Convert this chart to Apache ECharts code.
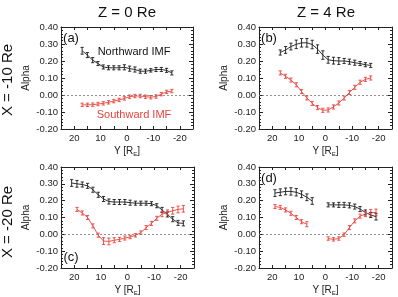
<!DOCTYPE html>
<html>
<head>
<meta charset="utf-8">
<script src="https://cdn.jsdelivr.net/npm/echarts@6/dist/echarts.min.js"></script>
<style>
html, body { margin: 0; padding: 0; background: #fff; }
#chart { width: 398px; height: 297px; }
</style>
</head>
<body>
<div id="chart"></div>
<script>
// Y positions (R_E) of the bins, per panel and curve
var yA = [17, 15, 13, 11, 9, 7, 5, 3, 1, -1, -3, -5, -7, -9, -11, -13, -15, -17];
var yCN = [21, 19, 17, 15, 13, 11, 9, 7, 5, 3, 1, -1, -3, -5, -7, -9, -11, -13, -15, -17, -19, -21];
var yCS = [19, 17, 15, 13, 11, 9, 7, 5, 3, 1, -1, -3, -5, -7, -9, -11, -13, -15, -17, -19, -21];
var yDNL = [19, 17, 15, 13, 11, 9, 7, 5];
var yDSL = [19, 17, 15, 13, 11, 9, 7];
var yDR = [-1, -3, -5, -7, -9, -11, -13, -15, -17, -19];

// (a) X = -10, Z = 0
var aNorth = [0.26, 0.235, 0.205, 0.185, 0.165, 0.16, 0.16, 0.16, 0.163, 0.155, 0.15, 0.14, 0.14, 0.145, 0.15, 0.15, 0.145, 0.13];
var aNorthErr = [0.02, 0.015, 0.015, 0.012, 0.012, 0.012, 0.012, 0.012, 0.015, 0.015, 0.015, 0.012, 0.012, 0.01, 0.012, 0.012, 0.012, 0.012];
var aSouth = [-0.058, -0.058, -0.057, -0.053, -0.049, -0.043, -0.036, -0.029, -0.02, -0.01, -0.006, -0.006, -0.01, -0.013, -0.009, 0.005, 0.018, 0.023];
var aSouthErr = [0.01, 0.01, 0.01, 0.01, 0.01, 0.01, 0.01, 0.01, 0.01, 0.01, 0.01, 0.01, 0.01, 0.01, 0.01, 0.01, 0.01, 0.01];

// (b) X = -10, Z = 4
var bNorth = [0.25, 0.265, 0.285, 0.298, 0.307, 0.307, 0.297, 0.27, 0.235, 0.207, 0.202, 0.2, 0.2, 0.196, 0.19, 0.185, 0.178, 0.174];
var bNorthErr = [0.015, 0.02, 0.02, 0.025, 0.025, 0.025, 0.025, 0.025, 0.025, 0.02, 0.02, 0.02, 0.015, 0.015, 0.015, 0.012, 0.012, 0.012];
var bSouth = [0.13, 0.11, 0.088, 0.06, 0.02, -0.017, -0.05, -0.074, -0.09, -0.088, -0.07, -0.047, -0.018, 0.015, 0.045, 0.075, 0.092, 0.1];
var bSouthErr = [0.012, 0.012, 0.012, 0.012, 0.012, 0.012, 0.012, 0.012, 0.012, 0.012, 0.012, 0.012, 0.012, 0.012, 0.012, 0.012, 0.012, 0.012];

// (c) X = -20, Z = 0
var cNorth = [0.305, 0.3, 0.296, 0.288, 0.265, 0.235, 0.21, 0.195, 0.192, 0.192, 0.192, 0.188, 0.185, 0.185, 0.185, 0.182, 0.17, 0.145, 0.118, 0.09, 0.068, 0.065];
var cNorthErr = [0.02, 0.02, 0.015, 0.015, 0.015, 0.015, 0.015, 0.015, 0.015, 0.015, 0.015, 0.015, 0.012, 0.012, 0.012, 0.012, 0.012, 0.015, 0.015, 0.015, 0.015, 0.015];
var cSouth = [0.148, 0.127, 0.1, 0.05, -0.005, -0.04, -0.042, -0.035, -0.03, -0.022, -0.016, -0.006, 0.01, 0.04, 0.065, 0.095, 0.12, 0.13, 0.14, 0.148, 0.152];
var cSouthErr = [0.012, 0.012, 0.012, 0.012, 0.012, 0.02, 0.02, 0.015, 0.012, 0.012, 0.01, 0.01, 0.01, 0.012, 0.012, 0.012, 0.015, 0.015, 0.02, 0.02, 0.02];

// (d) X = -20, Z = 4
var dNorthL = [0.245, 0.25, 0.255, 0.255, 0.25, 0.238, 0.22, 0.198];
var dNorthLErr = [0.02, 0.02, 0.02, 0.022, 0.022, 0.02, 0.02, 0.02];
var dNorthR = [0.175, 0.175, 0.175, 0.175, 0.172, 0.165, 0.15, 0.13, 0.115, 0.105];
var dNorthRErr = [0.012, 0.012, 0.015, 0.015, 0.015, 0.015, 0.015, 0.015, 0.015, 0.02];
var dSouthL = [0.165, 0.16, 0.145, 0.125, 0.1, 0.075, 0.06];
var dSouthLErr = [0.012, 0.012, 0.012, 0.012, 0.012, 0.012, 0.015];
var dSouthR = [-0.025, -0.03, -0.025, -0.002, 0.04, 0.08, 0.108, 0.12, 0.128, 0.13];
var dSouthRErr = [0.01, 0.01, 0.01, 0.01, 0.012, 0.012, 0.012, 0.015, 0.02, 0.02];

var BLACK = '#1a1a1a';
var RED = '#e8433b';
var FONT = 'Liberation Sans, Arial, sans-serif';

var chart = echarts.init(document.getElementById('chart'));

var grids = [
    {left: 61, top: 27, width: 132, height: 102},
    {left: 259, top: 27, width: 133, height: 102},
    {left: 61, top: 167, width: 133, height: 103},
    {left: 259, top: 167, width: 133, height: 103}
];

function zipPts(xs, vs, es) {
    var out = [];
    for (var i = 0; i < xs.length; i++) out.push([xs[i], vs[i], es[i]]);
    return out;
}

function renderErr(params, api) {
    var x = api.value(0), v = api.value(1), e = api.value(2);
    var hi = api.coord([x, v + e]);
    var lo = api.coord([x, v - e]);
    var w = 1.6;
    var st = {stroke: api.visual('color'), lineWidth: 0.9};
    return {
        type: 'group',
        children: [
            {type: 'line', shape: {x1: hi[0], y1: hi[1], x2: lo[0], y2: lo[1]}, style: st},
            {type: 'line', shape: {x1: hi[0] - w, y1: hi[1], x2: hi[0] + w, y2: hi[1]}, style: st},
            {type: 'line', shape: {x1: lo[0] - w, y1: lo[1], x2: lo[0] + w, y2: lo[1]}, style: st}
        ]
    };
}

var xAxes = [], yAxes = [], series = [];

grids.forEach(function (g, i) {
    xAxes.push({
        gridIndex: i, type: 'value', inverse: true, min: -25, max: 25, interval: 5,
        name: 'Y [R{e|E}]', nameLocation: 'middle', nameGap: 17,
        nameTextStyle: {fontSize: 10, color: '#222', fontFamily: FONT,
            rich: {e: {fontSize: 6, color: '#222', fontFamily: FONT, padding: [5, 0, 0, 0]}}},
        axisLine: {show: true, onZero: false, lineStyle: {color: '#222', width: 1}},
        axisTick: {show: true, inside: true, length: 3, lineStyle: {color: '#222'}},
        axisLabel: {fontSize: 9.5, color: '#222', fontFamily: FONT, margin: 4,
            formatter: function (v) { return v % 10 === 0 ? String(v) : ''; }},
        splitLine: {show: false}
    });
    xAxes.push({
        gridIndex: i, type: 'value', inverse: true, min: -25, max: 25, interval: 5, position: 'top',
        axisLine: {show: true, onZero: false, lineStyle: {color: '#222', width: 1}},
        axisTick: {show: true, inside: true, length: 3, lineStyle: {color: '#222'}},
        axisLabel: {show: false}, splitLine: {show: false}
    });
    yAxes.push({
        gridIndex: i, type: 'value', min: -0.2, max: 0.4, interval: 0.1,
        name: 'Alpha', nameLocation: 'middle', nameGap: 30,
        nameTextStyle: {fontSize: 10, color: '#222', fontFamily: FONT},
        axisLine: {show: true, onZero: false, lineStyle: {color: '#222', width: 1}},
        axisTick: {show: true, inside: true, length: 4, lineStyle: {color: '#222'}},
        minorTick: {show: true, splitNumber: 5, length: 2, lineStyle: {color: '#222'}},
        axisLabel: {fontSize: 9.5, color: '#222', fontFamily: FONT, margin: 3,
            formatter: function (v) { return Math.abs(v) < 1e-9 ? '0.00' : v.toFixed(2); }},
        splitLine: {show: false}
    });
    yAxes.push({
        gridIndex: i, type: 'value', min: -0.2, max: 0.4, interval: 0.1, position: 'right',
        axisLine: {show: true, onZero: false, lineStyle: {color: '#222', width: 1}},
        axisTick: {show: true, inside: true, length: 4, lineStyle: {color: '#222'}},
        minorTick: {show: true, splitNumber: 5, length: 2, lineStyle: {color: '#222'}},
        axisLabel: {show: false}, splitLine: {show: false}
    });
});

function addCurve(gi, xs, vs, es, color, zeroLine) {
    var pts = zipPts(xs, vs, es);
    var line = {
        type: 'line', xAxisIndex: gi * 2, yAxisIndex: gi * 2,
        data: pts.map(function (p) { return [p[0], p[1]]; }),
        showSymbol: false, symbol: 'none', smooth: false,
        lineStyle: {color: color, width: 0.9},
        itemStyle: {color: color},
        silent: true, animation: false, z: 3
    };
    if (zeroLine) {
        line.markLine = {
            symbol: 'none', silent: true, animation: false,
            label: {show: false},
            lineStyle: {type: [2, 2], color: '#777', width: 0.8},
            data: [{yAxis: 0}]
        };
    }
    series.push(line);
    series.push({
        type: 'custom', xAxisIndex: gi * 2, yAxisIndex: gi * 2,
        renderItem: renderErr, data: pts,
        encode: {x: 0, y: 1},
        itemStyle: {color: color},
        silent: true, animation: false, z: 4
    });
}

addCurve(0, yA, aNorth, aNorthErr, BLACK, true);
addCurve(0, yA, aSouth, aSouthErr, RED, false);
addCurve(1, yA, bNorth, bNorthErr, BLACK, true);
addCurve(1, yA, bSouth, bSouthErr, RED, false);
addCurve(2, yCN, cNorth, cNorthErr, BLACK, true);
addCurve(2, yCS, cSouth, cSouthErr, RED, false);
addCurve(3, yDNL, dNorthL, dNorthLErr, BLACK, true);
addCurve(3, yDR, dNorthR, dNorthRErr, BLACK, false);
addCurve(3, yDSL, dSouthL, dSouthLErr, RED, false);
addCurve(3, yDR, dSouthR, dSouthRErr, RED, false);

function txt(x, y, s, size, color, extra) {
    var o = {
        type: 'text', x: x, y: y, silent: true,
        style: {text: s, fontSize: size, fill: color || '#111', fontFamily: FONT,
            textAlign: 'center', textVerticalAlign: 'middle'}
    };
    if (extra) for (var k in extra) o[k] = extra[k];
    return o;
}

var option = {
    backgroundColor: '#fff',
    animation: false,
    grid: grids.map(function (g) {
        return {left: g.left, top: g.top, width: g.width, height: g.height, show: false};
    }),
    xAxis: xAxes,
    yAxis: yAxes,
    series: series,
    graphic: [
        txt(127, 13, 'Z = 0 Re', 15),
        txt(326, 13, 'Z = 4 Re', 15),
        txt(8, 80, 'X = -10 Re', 15, '#111', {rotation: Math.PI / 2}),
        txt(8, 222, 'X = -20 Re', 15, '#111', {rotation: Math.PI / 2}),
        txt(71, 38, '(a)', 13),
        txt(269, 38, '(b)', 13),
        txt(71, 257, '(c)', 13),
        txt(269, 178, '(d)', 13),
        txt(134, 52, 'Northward IMF', 11, '#111'),
        txt(134, 115, 'Southward IMF', 11, RED)
    ]
};

chart.setOption(option);
</script>
</body>
</html>
